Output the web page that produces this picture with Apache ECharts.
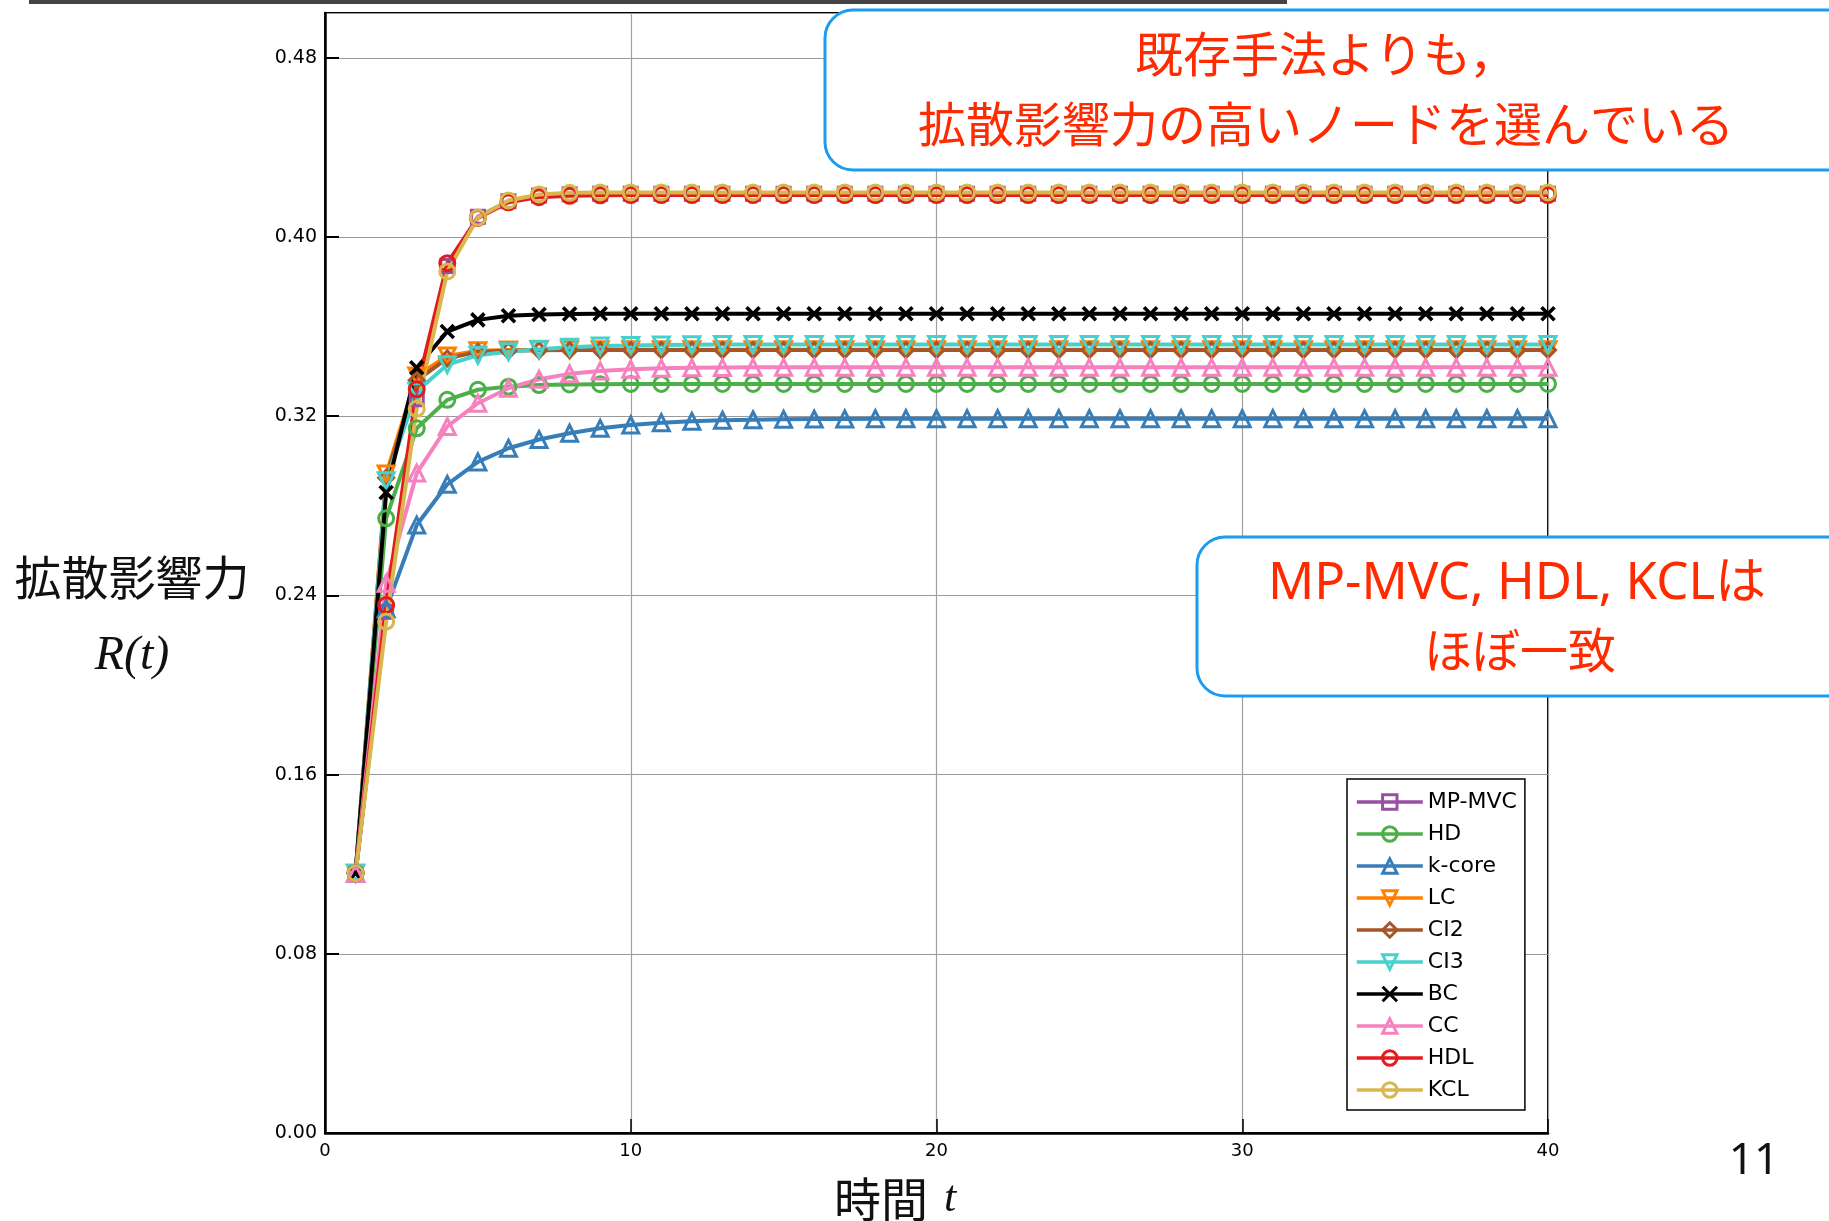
<!DOCTYPE html>
<html>
<head>
<meta charset="utf-8">
<script src="https://cdn.jsdelivr.net/npm/echarts@6/dist/echarts.min.js"></script>
<style>
  html, body { margin: 0; padding: 0; background: #fff; }
  #chart { width: 1829px; height: 1221px; }
</style>
</head>
<body>
<div id="chart"></div>
<script>
// Time steps t
const times = [
  1, 2, 3, 4, 5, 6, 7, 8, 9, 10,
  11, 12, 13, 14, 15, 16, 17, 18, 19, 20,
  21, 22, 23, 24, 25, 26, 27, 28, 29, 30,
  31, 32, 33, 34, 35, 36, 37, 38, 39, 40
];

// Spreading influence R(t) for each seed-selection method
const mpMvc = [
  0.116, 0.2327, 0.3276, 0.3870, 0.4090, 0.4160, 0.4185, 0.4191, 0.4193, 0.4193,
  0.4193, 0.4193, 0.4193, 0.4193, 0.4193, 0.4193, 0.4193, 0.4193, 0.4193, 0.4193,
  0.4193, 0.4193, 0.4193, 0.4193, 0.4193, 0.4193, 0.4193, 0.4193, 0.4193, 0.4193,
  0.4193, 0.4193, 0.4193, 0.4193, 0.4193, 0.4193, 0.4193, 0.4193, 0.4193, 0.4193
];
const hd = [
  0.116, 0.2744, 0.3146, 0.3273, 0.3318, 0.3332, 0.3339, 0.3342, 0.3343, 0.3344,
  0.3344, 0.3344, 0.3344, 0.3344, 0.3344, 0.3344, 0.3344, 0.3344, 0.3344, 0.3344,
  0.3344, 0.3344, 0.3344, 0.3344, 0.3344, 0.3344, 0.3344, 0.3344, 0.3344, 0.3344,
  0.3344, 0.3344, 0.3344, 0.3344, 0.3344, 0.3344, 0.3344, 0.3344, 0.3344, 0.3344
];
const kCore = [
  0.116, 0.2340, 0.2714, 0.2896, 0.2996, 0.3057, 0.3096, 0.3124, 0.3146, 0.3161,
  0.3171, 0.3177, 0.3182, 0.3184, 0.3186, 0.3187, 0.3188, 0.3189, 0.3189, 0.3189,
  0.3189, 0.3189, 0.3189, 0.3189, 0.3189, 0.3189, 0.3189, 0.3189, 0.3189, 0.3189,
  0.3189, 0.3189, 0.3189, 0.3189, 0.3189, 0.3189, 0.3189, 0.3189, 0.3189, 0.3189
];
const lc = [
  0.116, 0.2942, 0.3380, 0.3469, 0.3492, 0.3495, 0.3496, 0.3497, 0.3497, 0.3497,
  0.3497, 0.3497, 0.3497, 0.3497, 0.3497, 0.3497, 0.3497, 0.3497, 0.3497, 0.3497,
  0.3497, 0.3497, 0.3497, 0.3497, 0.3497, 0.3497, 0.3497, 0.3497, 0.3497, 0.3497,
  0.3497, 0.3497, 0.3497, 0.3497, 0.3497, 0.3497, 0.3497, 0.3497, 0.3497, 0.3497
];
const ci2 = [
  0.116, 0.2925, 0.3360, 0.3458, 0.3487, 0.3492, 0.3494, 0.3495, 0.3495, 0.3495,
  0.3495, 0.3495, 0.3495, 0.3495, 0.3495, 0.3495, 0.3495, 0.3495, 0.3495, 0.3495,
  0.3495, 0.3495, 0.3495, 0.3495, 0.3495, 0.3495, 0.3495, 0.3495, 0.3495, 0.3495,
  0.3495, 0.3495, 0.3495, 0.3495, 0.3495, 0.3495, 0.3495, 0.3495, 0.3495, 0.3495
];
const ci3 = [
  0.116, 0.2912, 0.3310, 0.3430, 0.3472, 0.3488, 0.3499, 0.3508, 0.3513, 0.3516,
  0.3518, 0.3519, 0.3520, 0.3520, 0.3520, 0.3520, 0.3520, 0.3520, 0.3520, 0.3520,
  0.3520, 0.3520, 0.3520, 0.3520, 0.3520, 0.3520, 0.3520, 0.3520, 0.3520, 0.3520,
  0.3520, 0.3520, 0.3520, 0.3520, 0.3520, 0.3520, 0.3520, 0.3520, 0.3520, 0.3520
];
const bc = [
  0.116, 0.2859, 0.3416, 0.3578, 0.3630, 0.3648, 0.3654, 0.3656, 0.3657, 0.3657,
  0.3657, 0.3657, 0.3657, 0.3657, 0.3657, 0.3657, 0.3657, 0.3657, 0.3657, 0.3657,
  0.3657, 0.3657, 0.3657, 0.3657, 0.3657, 0.3657, 0.3657, 0.3657, 0.3657, 0.3657,
  0.3657, 0.3657, 0.3657, 0.3657, 0.3657, 0.3657, 0.3657, 0.3657, 0.3657, 0.3657
];
const cc = [
  0.116, 0.2454, 0.2946, 0.3154, 0.3258, 0.3325, 0.3365, 0.3389, 0.3402, 0.3410,
  0.3414, 0.3416, 0.3417, 0.3418, 0.3418, 0.3418, 0.3418, 0.3418, 0.3418, 0.3418,
  0.3418, 0.3418, 0.3418, 0.3418, 0.3418, 0.3418, 0.3418, 0.3418, 0.3418, 0.3418,
  0.3418, 0.3418, 0.3418, 0.3418, 0.3418, 0.3418, 0.3418, 0.3418, 0.3418, 0.3418
];
const hdl = [
  0.116, 0.2357, 0.3320, 0.3883, 0.4085, 0.4155, 0.4178, 0.4184, 0.4186, 0.4187,
  0.4187, 0.4187, 0.4187, 0.4187, 0.4187, 0.4187, 0.4187, 0.4187, 0.4187, 0.4187,
  0.4187, 0.4187, 0.4187, 0.4187, 0.4187, 0.4187, 0.4187, 0.4187, 0.4187, 0.4187,
  0.4187, 0.4187, 0.4187, 0.4187, 0.4187, 0.4187, 0.4187, 0.4187, 0.4187, 0.4187
];
const kcl = [
  0.116, 0.2283, 0.3233, 0.3846, 0.4087, 0.4163, 0.4190, 0.4197, 0.4199, 0.4199,
  0.4199, 0.4199, 0.4199, 0.4199, 0.4199, 0.4199, 0.4199, 0.4199, 0.4199, 0.4199,
  0.4199, 0.4199, 0.4199, 0.4199, 0.4199, 0.4199, 0.4199, 0.4199, 0.4199, 0.4199,
  0.4199, 0.4199, 0.4199, 0.4199, 0.4199, 0.4199, 0.4199, 0.4199, 0.4199, 0.4199
];

// Axis ticks
const xTicks = [0, 10, 20, 30, 40];
const yTicks = [0.00, 0.08, 0.16, 0.24, 0.32, 0.40, 0.48];

// Series definitions: name, values, colour, marker
const seriesDefs = [
  { name: 'MP-MVC', values: mpMvc, color: '#984ea3', symbol: 'rect', size: 13 },
  { name: 'HD', values: hd, color: '#4daf4a', symbol: 'circle', size: 15 },
  { name: 'k-core', values: kCore, color: '#377eb8', symbol: 'triangle', size: 16 },
  { name: 'LC', values: lc, color: '#ff7f00', symbol: 'triangle', size: 16, rotate: 180 },
  { name: 'CI2', values: ci2, color: '#a65628', symbol: 'diamond', size: 15 },
  { name: 'CI3', values: ci3, color: '#48d1cc', symbol: 'triangle', size: 16, rotate: 180 },
  { name: 'BC', values: bc, color: '#000000', symbol: 'path://M0,0L10,10M10,0L0,10', size: 13, filled: true },
  { name: 'CC', values: cc, color: '#f781bf', symbol: 'triangle', size: 16 },
  { name: 'HDL', values: hdl, color: '#e41a1c', symbol: 'circle', size: 15 },
  { name: 'KCL', values: kcl, color: '#d8b84e', symbol: 'circle', size: 15 }
];

const LINE_W = 4;
const MARK_W = 3;

const series = seriesDefs.map(d => ({
  name: d.name,
  type: 'line',
  data: times.map((t, i) => [t, d.values[i]]),
  symbol: d.symbol,
  symbolSize: d.size,
  symbolRotate: d.rotate || 0,
  showAllSymbol: true,
  lineStyle: { color: d.color, width: LINE_W },
  itemStyle: {
    color: d.filled ? d.color : 'rgba(255,255,255,0)',
    borderColor: d.color,
    borderWidth: d.filled ? 3.6 : MARK_W
  },
  emphasis: { disabled: true },
  animation: false
}));

const chart = echarts.init(document.getElementById('chart'), null, { renderer: 'canvas' });

const noteFont = '"Noto Sans", "Noto Sans CJK JP", sans-serif';
const noteRed = '#ff2a00';
const boxBlue = '#1b9cf2';

chart.setOption({
  backgroundColor: '#ffffff',
  animation: false,
  grid: {
    left: 325, right: 281, top: 13, bottom: 88,
    show: true, borderColor: '#000', borderWidth: 2, backgroundColor: 'transparent'
  },
  xAxis: {
    type: 'value', min: xTicks[0], max: xTicks[xTicks.length - 1], interval: 10,
    axisLine: { show: true, lineStyle: { color: '#000', width: 2.5 } },
    axisTick: { show: true, inside: true, length: 14, lineStyle: { color: '#000', width: 1.5 } },
    axisLabel: { color: '#000', fontSize: 18, fontFamily: 'DejaVu Sans', margin: 9,
      formatter: v => xTicks.includes(v) ? String(v) : '' },
    splitLine: { show: true, lineStyle: { color: '#a0a0a0', width: 1.2 } }
  },
  yAxis: {
    type: 'value', min: 0, max: 0.5, interval: 0.08,
    axisLine: { show: true, lineStyle: { color: '#000', width: 2.5 } },
    axisTick: { show: true, inside: true, length: 14, lineStyle: { color: '#000', width: 2 } },
    axisLabel: { color: '#000', fontSize: 19, fontFamily: 'DejaVu Sans', margin: 8, showMaxLabel: false,
      formatter: v => {
        const hit = yTicks.find(t => Math.abs(t - v) < 1e-9);
        return hit === undefined ? '' : hit.toFixed(2);
      } },
    splitLine: { show: true, lineStyle: { color: '#999999', width: 1.2 } }
  },
  legend: {
    orient: 'vertical', left: 1347, top: 779,
    padding: [12, 8, 9, 8],
    itemWidth: 66, itemHeight: 18, itemGap: 10,
    backgroundColor: '#fff', borderColor: '#000', borderWidth: 1.5, borderRadius: 0,
    textStyle: { fontSize: 22, lineHeight: 22, fontFamily: 'DejaVu Sans', color: '#000' },
    lineStyle: { width: 3.6 },
    itemStyle: { borderWidth: MARK_W },
    selectedMode: false,
    data: seriesDefs.map(d => d.name)
  },
  series: series,
  graphic: [
    // slide header bar
    { type: 'rect', z: 100, shape: { x: 29, y: 0, width: 1258, height: 4 }, style: { fill: '#444' } },
    // axis titles
    { type: 'text', z: 100, style: { text: '拡散影響力', x: 132, y: 577, align: 'center', verticalAlign: 'middle',
        fontSize: 47, fontFamily: '"Noto Sans CJK JP", sans-serif', fill: '#111' } },
    { type: 'text', z: 100, style: { text: 'R(t)', x: 132, y: 656, align: 'center', verticalAlign: 'middle',
        fontSize: 48, fontStyle: 'italic', fontFamily: '"Liberation Serif", serif', fill: '#111' } },
    { type: 'text', z: 100, style: { text: '時間', x: 881, y: 1199, align: 'center', verticalAlign: 'middle',
        fontSize: 47, fontFamily: '"Noto Sans CJK JP", sans-serif', fill: '#111' } },
    { type: 'text', z: 100, style: { text: 't', x: 950, y: 1199, align: 'center', verticalAlign: 'middle',
        fontSize: 44, fontStyle: 'italic', fontFamily: '"Liberation Serif", serif', fill: '#111' } },
    // page number
    { type: 'text', z: 100, style: { text: '11', x: 1754, y: 1161, align: 'center', verticalAlign: 'middle',
        fontSize: 44, fontFamily: '"Noto Sans", sans-serif', fill: '#111' } },
    // callout boxes
    { type: 'rect', z: 100, shape: { x: 825, y: 10, width: 1030, height: 160, r: 28 },
      style: { fill: '#fff', stroke: boxBlue, lineWidth: 3 } },
    { type: 'text', z: 101, style: { text: '既存手法よりも，', x: 1326, y: 58, align: 'center', verticalAlign: 'middle',
        fontSize: 48, fontFamily: noteFont, fill: noteRed } },
    { type: 'text', z: 101, style: { text: '拡散影響力の高いノードを選んでいる', x: 1326, y: 128, align: 'center', verticalAlign: 'middle',
        fontSize: 48, fontFamily: noteFont, fill: noteRed } },
    { type: 'rect', z: 100, shape: { x: 1197, y: 537, width: 660, height: 159, r: 28 },
      style: { fill: '#fff', stroke: boxBlue, lineWidth: 3 } },
    { type: 'text', z: 101, style: { text: 'MP-MVC, HDL, KCLは', x: 1517, y: 584, align: 'center', verticalAlign: 'middle',
        fontSize: 51, fontFamily: noteFont, fill: noteRed } },
    { type: 'text', z: 101, style: { text: 'ほぼ一致', x: 1520, y: 654, align: 'center', verticalAlign: 'middle',
        fontSize: 48, fontFamily: noteFont, fill: noteRed } }
  ]
});
</script>
</body>
</html>
